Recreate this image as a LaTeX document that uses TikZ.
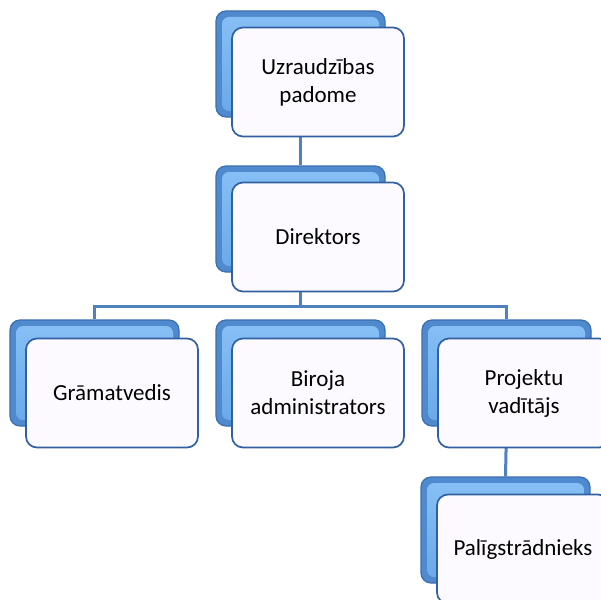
\documentclass[tikz,border=0pt]{standalone}
\usepackage{fontspec}
\setmainfont{Carlito}
\usetikzlibrary{backgrounds}
\definecolor{bbouter}{RGB}{78,138,205}
\definecolor{bbtop}{RGB}{135,192,245}
\definecolor{bbbot}{RGB}{105,168,232}
\definecolor{bbdraw}{RGB}{60,110,175}
\definecolor{fbfill}{RGB}{252,250,255}
\definecolor{fbdraw}{RGB}{50,95,160}
\definecolor{conncol}{RGB}{79,129,189}
\begin{document}
\begin{tikzpicture}[x=1pt,y=-1pt,
  backbox/.style={rounded corners=10pt, minimum width=169pt, minimum height=106pt,
    inner sep=0pt, draw=bbdraw, line width=1.2pt, fill=bbouter,
    path picture={\shade[top color=bbtop, bottom color=bbbot, rounded corners=7pt]
      ([shift={(6pt,-6pt)}]path picture bounding box.north west) rectangle
      ([shift={(-6pt,6pt)}]path picture bounding box.south east);}},
  frontbox/.style={rounded corners=11pt, minimum width=172pt, minimum height=109pt,
    inner sep=0pt, draw=fbdraw, line width=1.7pt, fill=fbfill, align=center,
    font=\fontsize{23}{28}\selectfont, text=black},
  conn/.style={draw=conncol, line width=3pt}]
\useasboundingbox (0,0) rectangle (601,599);
% back boxes
\node[backbox] (uzB)   at (300.5,64) {};
\node[backbox] (dirB)  at (300.5,219) {};
\node[backbox] (gramB) at (94.5,373) {};
\node[backbox] (birB)  at (300.5,373) {};
\node[backbox] (projB) at (506.5,373) {};
\node[backbox] (palB)  at (505.5,530) {};
% front boxes
\node[frontbox] (uz)   at (318,82)  {Uzraudzības\\padome};
\node[frontbox] (dir)  at (318,237) {Direktors};
\node[frontbox] (gram) at (112,393) {Grāmatvedis};
\node[frontbox] (bir)  at (318,393) {Biroja\\administrators};
\node[frontbox] (proj) at (524,393) {Projektu\\vadītājs};
\node[frontbox] (pal)  at (523,549) {Palīgstrādnieks};
\begin{scope}[on background layer]
  \draw[conn] (uzB.south) -- (dirB.north);
  \draw[conn] (dirB.south) -- ++(0,34) -| (gramB.north);
  \draw[conn] (dirB.south) -- ++(0,34) -| (projB.north);
  \draw[conn] (projB.south) -- (palB.north);
\end{scope}
\end{tikzpicture}
\end{document}
